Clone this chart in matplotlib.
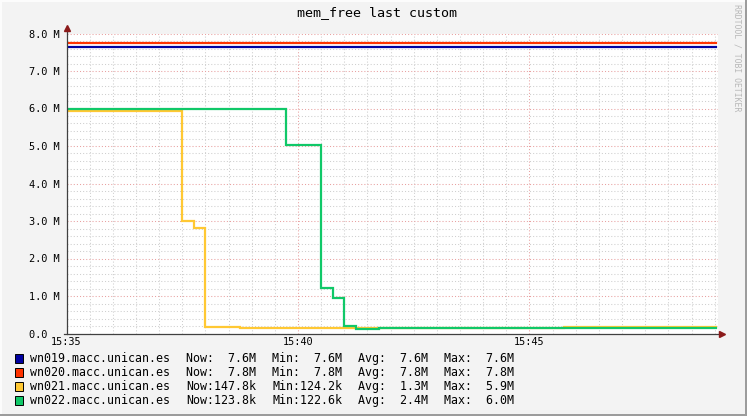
import matplotlib
matplotlib.use("Agg")
import matplotlib.pyplot as plt
from matplotlib.patches import Rectangle

# ---- data (time in minutes after 15:35, values in millions) ----
hosts = ["wn019.macc.unican.es", "wn020.macc.unican.es",
         "wn021.macc.unican.es", "wn022.macc.unican.es"]
colors = ["#0000a0", "#ff3300", "#ffc833", "#10c868"]

t_wn019 = [0.0, 14.03]
v_wn019 = [7.64, 7.64]

t_wn020 = [0.0, 14.03]
v_wn020 = [7.76, 7.76]

t_wn021 = [0.0, 2.5, 2.75, 3.0, 3.75, 8.0, 8.5, 9.0, 9.5, 10.75, 14.03]
v_wn021 = [5.93, 3.01, 2.82, 0.18, 0.135, 0.16, 0.135, 0.16, 0.135, 0.175, 0.175]

t_wn022 = [0.0, 4.75, 5.5, 5.75, 6.0, 6.25, 6.75, 10.75, 11.5, 12.0, 14.03]
v_wn022 = [5.98, 5.03, 1.21, 0.94, 0.2, 0.13, 0.16, 0.135, 0.16, 0.135, 0.135]

series_t = [t_wn019, t_wn020, t_wn021, t_wn022]
series_v = [v_wn019, v_wn020, v_wn021, v_wn022]

now_txt = ["7.6M", "7.8M", "147.8k", "123.8k"]
min_txt = ["7.6M", "7.8M", "124.2k", "122.6k"]
avg_txt = ["7.6M", "7.8M", "1.3M", "2.4M"]
max_txt = ["7.6M", "7.8M", "5.9M", "6.0M"]

y_ticks = [0, 1, 2, 3, 4, 5, 6, 7, 8]
y_labels = ["0.0  ", "1.0 M", "2.0 M", "3.0 M", "4.0 M", "5.0 M", "6.0 M", "7.0 M", "8.0 M"]
x_ticks = [0, 5, 10]
x_labels = ["15:35", "15:40", "15:45"]

W, H = 747, 416
MONO = "DejaVu Sans Mono"


def px(x, y):
    return x / W, 1 - y / H


fig = plt.figure(figsize=(W / 100, H / 100), dpi=100, facecolor="#f3f3f3")

# 3d-ish border of the rrdtool canvas
fig.patches.append(Rectangle(px(0, 416), 2 / W, 1, transform=fig.transFigure,
                             facecolor="#fcfcfc", edgecolor="none"))
fig.patches.append(Rectangle(px(0, 2), 1, 2 / H, transform=fig.transFigure,
                             facecolor="#fcfcfc", edgecolor="none"))
fig.patches.append(Rectangle(px(745, 416), 2 / W, 1, transform=fig.transFigure,
                             facecolor="#9c9c9c", edgecolor="none"))
fig.patches.append(Rectangle(px(0, 416), 1, 2 / H, transform=fig.transFigure,
                             facecolor="#9c9c9c", edgecolor="none"))

left, right, top, bottom = 66.5, 718.0, 33.5, 333.5
ax = fig.add_axes([left / W, 1 - bottom / H, (right - left) / W, (bottom - top) / H])
ax.set_facecolor("white")
ppm = 46.3  # pixels per minute
ax.set_xlim(0, (right - left) / ppm)
ax.set_ylim(0, 8)
for s in ax.spines.values():
    s.set_visible(False)

# grid
dot = (0, (1, 2))
for m in [i * 0.5 for i in range(1, 29)]:
    if m % 5 == 0:
        continue
    ax.axvline(m, color="#cfcfcf", lw=0.75, ls=dot, zorder=1)
for yv in [i * 0.2 for i in range(1, 40)]:
    if abs(yv - round(yv)) < 1e-6:
        continue
    ax.axhline(yv, color="#cfcfcf", lw=0.75, ls=dot, zorder=1)
for m in x_ticks[1:]:
    ax.axvline(m, color="#e8a0a0", lw=0.75, ls=dot, zorder=1.5)
for yv in y_ticks[1:]:
    ax.axhline(yv, color="#e8a0a0", lw=0.75, ls=dot, zorder=1.5)

# data
for t, v, c in zip(series_t, series_v, colors):
    ax.plot(t, v, drawstyle="steps-post", color=c, lw=1.6, zorder=3,
            solid_joinstyle="miter")

# axes with arrows
xmax = ax.get_xlim()[1]
ax.plot([-0.05, xmax + 0.05], [0, 0], color="#404040", lw=0.9, clip_on=False, zorder=4)
ax.plot([0, 0], [0, 8.15], color="#404040", lw=0.9, clip_on=False, zorder=4)
ax.plot([0], [8.15], marker="^", ms=4, color="#8b1a1a", clip_on=False, zorder=5)
ax.plot([xmax + 0.08], [0], marker=">", ms=4, color="#8b1a1a", clip_on=False, zorder=5)

ax.set_yticks(y_ticks)
ax.set_yticklabels(y_labels, fontfamily=MONO, fontsize=7.4)
ax.set_xticks(x_ticks)
ax.set_xticklabels(x_labels, fontfamily=MONO, fontsize=7.4)
ax.tick_params(axis="y", length=0, pad=4.6)
ax.tick_params(axis="x", length=0, pad=2.6)

# title
fig.text(*px(377, 13), "mem_free last custom", ha="center", va="center",
         fontfamily=MONO, fontsize=9.6)

# watermark
fig.text(*px(737, 58), "RRDTOOL / TOBI OETIKER", rotation=270, ha="center", va="center",
         fontfamily=MONO, fontsize=5.9, color="#b8b8b8")

# legend
for i, host in enumerate(hosts):
    yc = 358.5 + i * 14
    fig.patches.append(Rectangle(px(15, yc + 4.5), 8 / W, 9 / H, transform=fig.transFigure,
                                 facecolor=colors[i], edgecolor="black", lw=0.7))
    kw = dict(va="center", ha="left", fontfamily=MONO, fontsize=8.4)
    fig.text(*px(30, yc), host, **kw)
    fig.text(*px(186, yc), "Now:%6s" % now_txt[i], **kw)
    fig.text(*px(272.5, yc), "Min:%6s" % min_txt[i], **kw)
    fig.text(*px(358.5, yc), "Avg:%6s" % avg_txt[i], **kw)
    fig.text(*px(444, yc), "Max:%6s" % max_txt[i], **kw)

fig.savefig("out.png", dpi=100, facecolor=fig.get_facecolor())
